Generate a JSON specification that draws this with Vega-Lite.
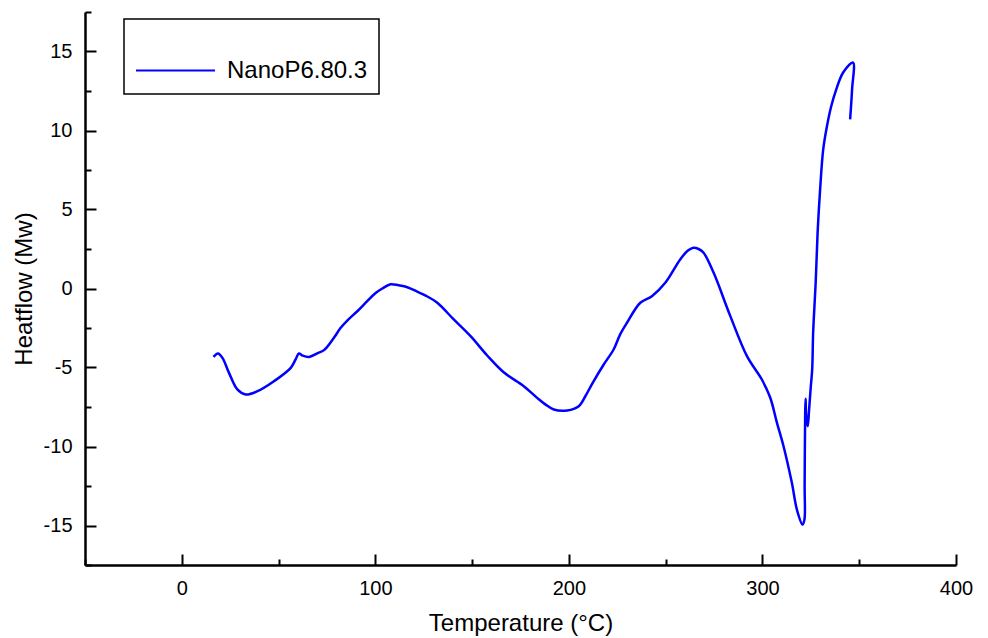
{
  "$schema": "https://vega.github.io/schema/vega-lite/v6.json",
  "width": 871,
  "height": 553,
  "autosize": {"type": "none"},
  "padding": {"left": 85, "top": 12, "right": 32, "bottom": 73},
  "background": "white",
  "config": {
    "view": {"stroke": null},
    "font": "Liberation Sans",
    "axis": {
      "domainColor": "black",
      "domainWidth": 2.5,
      "tickColor": "black",
      "tickWidth": 2,
      "labelColor": "black",
      "labelFont": "Liberation Sans",
      "labelFontSize": 20,
      "titleFont": "Liberation Sans",
      "titleFontSize": 24,
      "titleFontWeight": "normal",
      "titleColor": "black",
      "grid": false
    }
  },
  "data": {
    "values": [
      {"n": 1, "t": 16.4, "h": -4.33, "s": "NanoP6.80.3"},
      {"n": 2, "t": 18.7, "h": -4.11, "s": "NanoP6.80.3"},
      {"n": 3, "t": 21.0, "h": -4.39, "s": "NanoP6.80.3"},
      {"n": 4, "t": 24.4, "h": -5.34, "s": "NanoP6.80.3"},
      {"n": 5, "t": 28.7, "h": -6.39, "s": "NanoP6.80.3"},
      {"n": 6, "t": 33.0, "h": -6.71, "s": "NanoP6.80.3"},
      {"n": 7, "t": 39.1, "h": -6.50, "s": "NanoP6.80.3"},
      {"n": 8, "t": 47.6, "h": -5.87, "s": "NanoP6.80.3"},
      {"n": 9, "t": 56.3, "h": -5.02, "s": "NanoP6.80.3"},
      {"n": 10, "t": 58.8, "h": -4.49, "s": "NanoP6.80.3"},
      {"n": 11, "t": 60.5, "h": -4.11, "s": "NanoP6.80.3"},
      {"n": 12, "t": 62.5, "h": -4.25, "s": "NanoP6.80.3"},
      {"n": 13, "t": 65.7, "h": -4.33, "s": "NanoP6.80.3"},
      {"n": 14, "t": 70.0, "h": -4.10, "s": "NanoP6.80.3"},
      {"n": 15, "t": 73.5, "h": -3.90, "s": "NanoP6.80.3"},
      {"n": 16, "t": 78.6, "h": -3.12, "s": "NanoP6.80.3"},
      {"n": 17, "t": 82.1, "h": -2.49, "s": "NanoP6.80.3"},
      {"n": 18, "t": 85.5, "h": -2.03, "s": "NanoP6.80.3"},
      {"n": 19, "t": 90.7, "h": -1.44, "s": "NanoP6.80.3"},
      {"n": 20, "t": 95.8, "h": -0.80, "s": "NanoP6.80.3"},
      {"n": 21, "t": 100.0, "h": -0.30, "s": "NanoP6.80.3"},
      {"n": 22, "t": 103.6, "h": 0.00, "s": "NanoP6.80.3"},
      {"n": 23, "t": 107.9, "h": 0.27, "s": "NanoP6.80.3"},
      {"n": 24, "t": 112.0, "h": 0.20, "s": "NanoP6.80.3"},
      {"n": 25, "t": 116.5, "h": 0.08, "s": "NanoP6.80.3"},
      {"n": 26, "t": 121.6, "h": -0.20, "s": "NanoP6.80.3"},
      {"n": 27, "t": 126.0, "h": -0.45, "s": "NanoP6.80.3"},
      {"n": 28, "t": 132.0, "h": -0.90, "s": "NanoP6.80.3"},
      {"n": 29, "t": 140.5, "h": -1.96, "s": "NanoP6.80.3"},
      {"n": 30, "t": 149.2, "h": -3.02, "s": "NanoP6.80.3"},
      {"n": 31, "t": 157.8, "h": -4.24, "s": "NanoP6.80.3"},
      {"n": 32, "t": 166.3, "h": -5.30, "s": "NanoP6.80.3"},
      {"n": 33, "t": 176.7, "h": -6.18, "s": "NanoP6.80.3"},
      {"n": 34, "t": 183.6, "h": -6.92, "s": "NanoP6.80.3"},
      {"n": 35, "t": 188.0, "h": -7.35, "s": "NanoP6.80.3"},
      {"n": 36, "t": 192.2, "h": -7.66, "s": "NanoP6.80.3"},
      {"n": 37, "t": 199.1, "h": -7.72, "s": "NanoP6.80.3"},
      {"n": 38, "t": 205.1, "h": -7.45, "s": "NanoP6.80.3"},
      {"n": 39, "t": 208.5, "h": -6.82, "s": "NanoP6.80.3"},
      {"n": 40, "t": 212.3, "h": -5.97, "s": "NanoP6.80.3"},
      {"n": 41, "t": 218.0, "h": -4.81, "s": "NanoP6.80.3"},
      {"n": 42, "t": 223.1, "h": -3.86, "s": "NanoP6.80.3"},
      {"n": 43, "t": 226.5, "h": -2.90, "s": "NanoP6.80.3"},
      {"n": 44, "t": 230.0, "h": -2.17, "s": "NanoP6.80.3"},
      {"n": 45, "t": 236.9, "h": -0.90, "s": "NanoP6.80.3"},
      {"n": 46, "t": 242.9, "h": -0.49, "s": "NanoP6.80.3"},
      {"n": 47, "t": 249.8, "h": 0.36, "s": "NanoP6.80.3"},
      {"n": 48, "t": 257.5, "h": 1.84, "s": "NanoP6.80.3"},
      {"n": 49, "t": 261.5, "h": 2.40, "s": "NanoP6.80.3"},
      {"n": 50, "t": 264.4, "h": 2.58, "s": "NanoP6.80.3"},
      {"n": 51, "t": 267.0, "h": 2.50, "s": "NanoP6.80.3"},
      {"n": 52, "t": 269.6, "h": 2.26, "s": "NanoP6.80.3"},
      {"n": 53, "t": 274.8, "h": 0.99, "s": "NanoP6.80.3"},
      {"n": 54, "t": 283.4, "h": -1.75, "s": "NanoP6.80.3"},
      {"n": 55, "t": 292.0, "h": -4.28, "s": "NanoP6.80.3"},
      {"n": 56, "t": 299.7, "h": -5.76, "s": "NanoP6.80.3"},
      {"n": 57, "t": 304.0, "h": -6.90, "s": "NanoP6.80.3"},
      {"n": 58, "t": 307.5, "h": -8.50, "s": "NanoP6.80.3"},
      {"n": 59, "t": 310.9, "h": -9.98, "s": "NanoP6.80.3"},
      {"n": 60, "t": 315.2, "h": -12.30, "s": "NanoP6.80.3"},
      {"n": 61, "t": 317.8, "h": -13.99, "s": "NanoP6.80.3"},
      {"n": 62, "t": 320.7, "h": -14.94, "s": "NanoP6.80.3"},
      {"n": 63, "t": 321.7, "h": -14.62, "s": "NanoP6.80.3"},
      {"n": 64, "t": 321.8, "h": -12.50, "s": "NanoP6.80.3"},
      {"n": 65, "t": 322.1, "h": -7.66, "s": "NanoP6.80.3"},
      {"n": 66, "t": 322.3, "h": -6.98, "s": "NanoP6.80.3"},
      {"n": 67, "t": 322.6, "h": -8.08, "s": "NanoP6.80.3"},
      {"n": 68, "t": 323.4, "h": -8.71, "s": "NanoP6.80.3"},
      {"n": 69, "t": 324.1, "h": -7.66, "s": "NanoP6.80.3"},
      {"n": 70, "t": 325.0, "h": -6.18, "s": "NanoP6.80.3"},
      {"n": 71, "t": 325.7, "h": -5.13, "s": "NanoP6.80.3"},
      {"n": 72, "t": 326.2, "h": -2.78, "s": "NanoP6.80.3"},
      {"n": 73, "t": 327.5, "h": 0.38, "s": "NanoP6.80.3"},
      {"n": 74, "t": 328.5, "h": 3.54, "s": "NanoP6.80.3"},
      {"n": 75, "t": 329.8, "h": 6.27, "s": "NanoP6.80.3"},
      {"n": 76, "t": 331.4, "h": 8.80, "s": "NanoP6.80.3"},
      {"n": 77, "t": 333.3, "h": 10.25, "s": "NanoP6.80.3"},
      {"n": 78, "t": 335.5, "h": 11.52, "s": "NanoP6.80.3"},
      {"n": 79, "t": 338.1, "h": 12.59, "s": "NanoP6.80.3"},
      {"n": 80, "t": 341.7, "h": 13.67, "s": "NanoP6.80.3"},
      {"n": 81, "t": 346.8, "h": 14.30, "s": "NanoP6.80.3"},
      {"n": 82, "t": 346.3, "h": 12.59, "s": "NanoP6.80.3"},
      {"n": 83, "t": 345.3, "h": 10.70, "s": "NanoP6.80.3"}
    ]
  },
  "mark": {"type": "line", "strokeWidth": 2.5, "interpolate": "catmull-rom"},
  "encoding": {
    "x": {
      "field": "t",
      "type": "quantitative",
      "scale": {"domain": [-50, 400], "nice": false, "zero": false},
      "axis": {
        "title": "Temperature (°C)",
        "values": [-50, 0, 50, 100, 150, 200, 250, 300, 350, 400],
        "labelExpr": "datum.value % 100 === 0 ? '' + datum.value : ''",
        "tickSize": {"condition": {"test": "datum.value % 100 === 0", "value": -11}, "value": -6},
        "labelPadding": 24,
        "labelFlush": false,
        "labelOverlap": false,
        "titlePadding": 8
      }
    },
    "y": {
      "field": "h",
      "type": "quantitative",
      "scale": {"domain": [-17.5, 17.5], "nice": false, "zero": false},
      "axis": {
        "title": "Heatflow (Mw)",
        "values": [-17.5, -15, -12.5, -10, -7.5, -5, -2.5, 0, 2.5, 5, 7.5, 10, 12.5, 15, 17.5],
        "labelExpr": "datum.value % 5 === 0 ? '' + datum.value : ''",
        "tickSize": {"condition": {"test": "datum.value % 5 === 0", "value": -11}, "value": -6},
        "labelPadding": 24,
        "labelFlush": false,
        "labelOverlap": false,
        "titlePadding": 7
      }
    },
    "order": {"field": "n", "type": "quantitative"},
    "color": {
      "field": "s",
      "type": "nominal",
      "scale": {"range": ["#0000ff"]},
      "legend": {
        "title": null,
        "orient": "none",
        "legendX": 39,
        "legendY": 7,
        "symbolType": "stroke",
        "symbolSize": 6241,
        "symbolStrokeWidth": 2,
        "labelFont": "Liberation Sans",
        "labelFontSize": 24,
        "labelColor": "black",
        "labelOffset": 11,
        "padding": 11,
        "strokeColor": "black",
        "fillColor": "white",
        "encode": {"legend": {"update": {"strokeWidth": {"value": 1.5}}}}
      }
    }
  }
}
